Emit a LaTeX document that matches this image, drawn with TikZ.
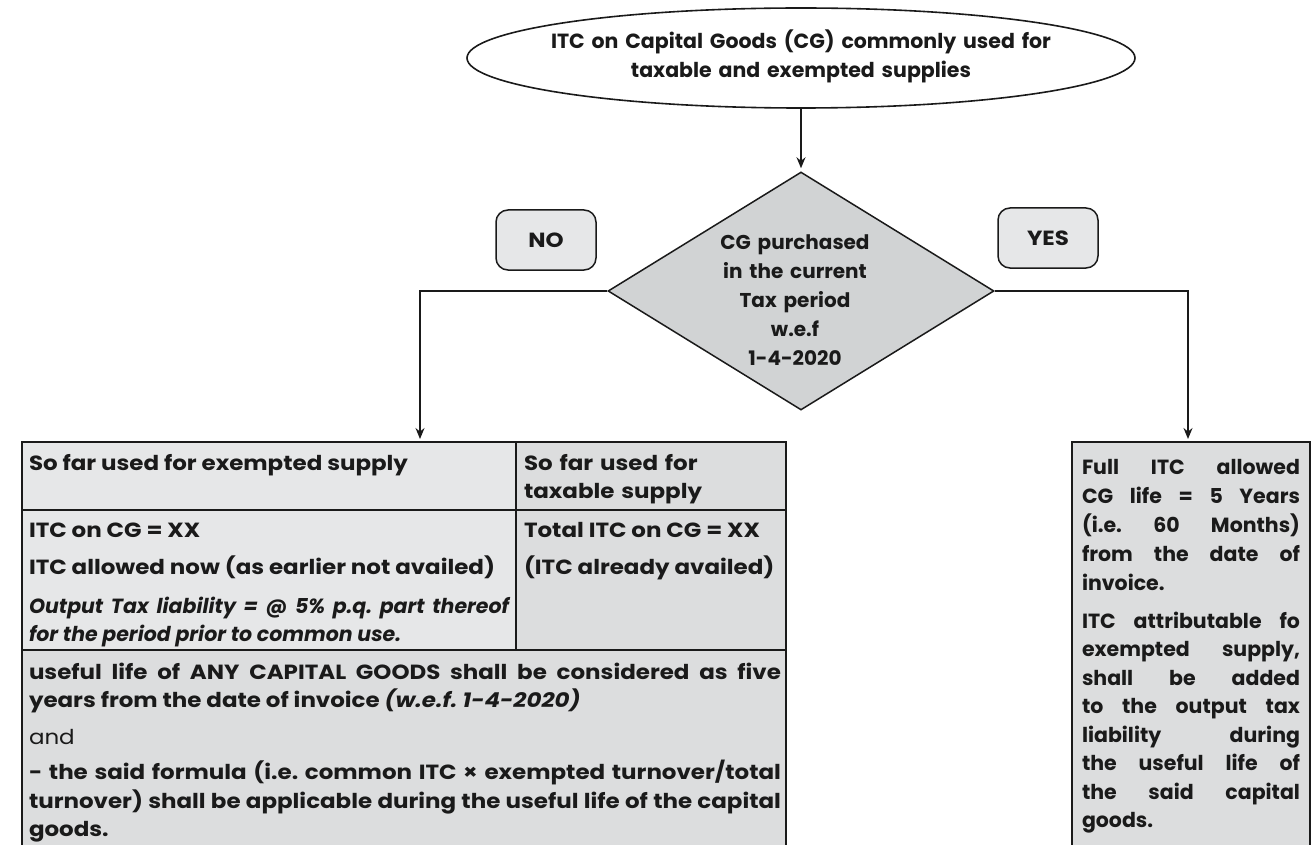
\documentclass[tikz,border=0pt]{standalone}
\usepackage{fontspec}
\setmainfont{Poppins}[FakeStretch=1.12]
\newfontfamily\plainf{Poppins}
\usetikzlibrary{shapes.geometric,arrows.meta}
\definecolor{lightg}{HTML}{E6E7E8}
\definecolor{midg}{HTML}{DCDDDE}
\definecolor{diag}{HTML}{D1D3D4}
\definecolor{ink}{HTML}{1A1A1A}
\tikzset{
  txt/.style={anchor=base west, inner sep=0pt, outer sep=0pt, align=justify, text=ink},
  ctxt/.style={anchor=base, inner sep=0pt, outer sep=0pt, align=center, text=ink},
  arr/.style={-{Stealth[length=11pt,width=9pt]}, line width=1.4pt, draw=ink, shorten >=3pt},
  lbl/.style={draw=ink, fill=lightg, rounded corners=12pt, line width=1.5pt, minimum width=100pt, minimum height=60pt, inner sep=0pt, text=ink},
  cell/.style={draw=ink, line width=2pt, anchor=north west, inner sep=0pt, outer sep=0pt},
}
\begin{document}
\frenchspacing
\begin{tikzpicture}[x=1pt,y=-1pt,font=\fontsize{20.5}{28.5}\selectfont\bfseries\frenchspacing]
\useasboundingbox (0,0) rectangle (1312,845);
\clip (0,0) rectangle (1312,845);

% top ellipse
\node[draw=ink, ellipse, minimum width=668pt, minimum height=100pt, line width=1.6pt, fill=white, inner sep=0pt] (ell) at (801,58) {};
\node[ctxt, text width=620pt] (elltxt) at (801,49) {\plainf\fontsize{20.5}{31}\selectfont\bfseries ITC on Capital Goods (CG) commonly used for\\taxable and exempted supplies};

% decision
\node[draw=ink, diamond, minimum width=386pt, minimum height=238pt, fill=diag, line width=1.5pt, inner sep=0pt] (dia) at (801,291) {};
\node[ctxt, text width=200pt] (diatxt) at (795,250) {\plainf\fontsize{20}{29}\selectfont\bfseries CG purchased\\in the current\\Tax period\\w.e.f\\1-4-2020};

\node[lbl] (no) at (546,240) {NO};
\node[lbl] (yes) at (1048,238) {YES};

% left table
\node[cell, fill=lightg, minimum width=494pt, minimum height=68pt] (c11) at (22,442) {};
\node[cell, fill=midg, minimum width=270pt, minimum height=68pt] (c12) at (516,442) {};
\node[cell, fill=lightg, minimum width=494pt, minimum height=140pt] (c21) at (22,510) {};
\node[cell, fill=midg, minimum width=270pt, minimum height=140pt] (c22) at (516,510) {};
\node[cell, fill=midg, minimum width=764pt, minimum height=230pt] (c3) at (22,650) {};

\node[txt, text width=480pt] (h1) at (29,470) {So far used for exempted supply};
\node[txt, text width=256pt, align=left] (h2) at (524,470) {\fontsize{20.5}{30}\selectfont So far used for\\taxable supply};
\node[txt, text width=480pt] (r2a) at (29,537) {ITC on CG = XX\par\vspace{9pt}ITC allowed now (as earlier not availed)\par\vspace{10pt}\plainf\bfseries\itshape Output Tax liability = @ 5\% p.q. part thereof\linebreak for the period prior to common use.};
\node[txt, text width=256pt] (r2b) at (524,537) {Total ITC on CG = XX\par\vspace{9pt}(ITC already availed)};
\node[txt, text width=752pt] (r3) at (29,679) {useful life of ANY CAPITAL GOODS shall be considered as five\linebreak years from the date of invoice \textit{(w.e.f. 1-4-2020)}\par\vspace{8.5pt}{\mdseries and}\par\vspace{6.5pt}- the said formula (i.e. common ITC × exempted turnover/total\linebreak turnover) shall be applicable during the useful life of the capital\linebreak goods.};

% right box
\node[cell, fill=midg, minimum width=238pt, minimum height=430pt] (rbox) at (1072,442) {};
\node[txt, text width=218pt] (rtxt) at (1082,474) {\plainf\fontsize{20.5}{29.2}\selectfont\bfseries Full ITC allowed\linebreak CG life = 5 Years\linebreak (i.e. 60 Months)\linebreak from the date of\linebreak invoice.\par\vspace{9pt}ITC attributable fo\linebreak exempted supply,\linebreak shall be added\linebreak to the output tax\linebreak liability during\linebreak the useful life of\linebreak the said capital\linebreak goods.};

% connectors
\coordinate (ltop) at (420,442);
\coordinate (rtop) at (1188,442);
\draw[arr] (ell.south) -- (dia.north);
\draw[arr] (dia.west) -| (ltop);
\draw[arr] (dia.east) -| (rtop);
\end{tikzpicture}
\end{document}
